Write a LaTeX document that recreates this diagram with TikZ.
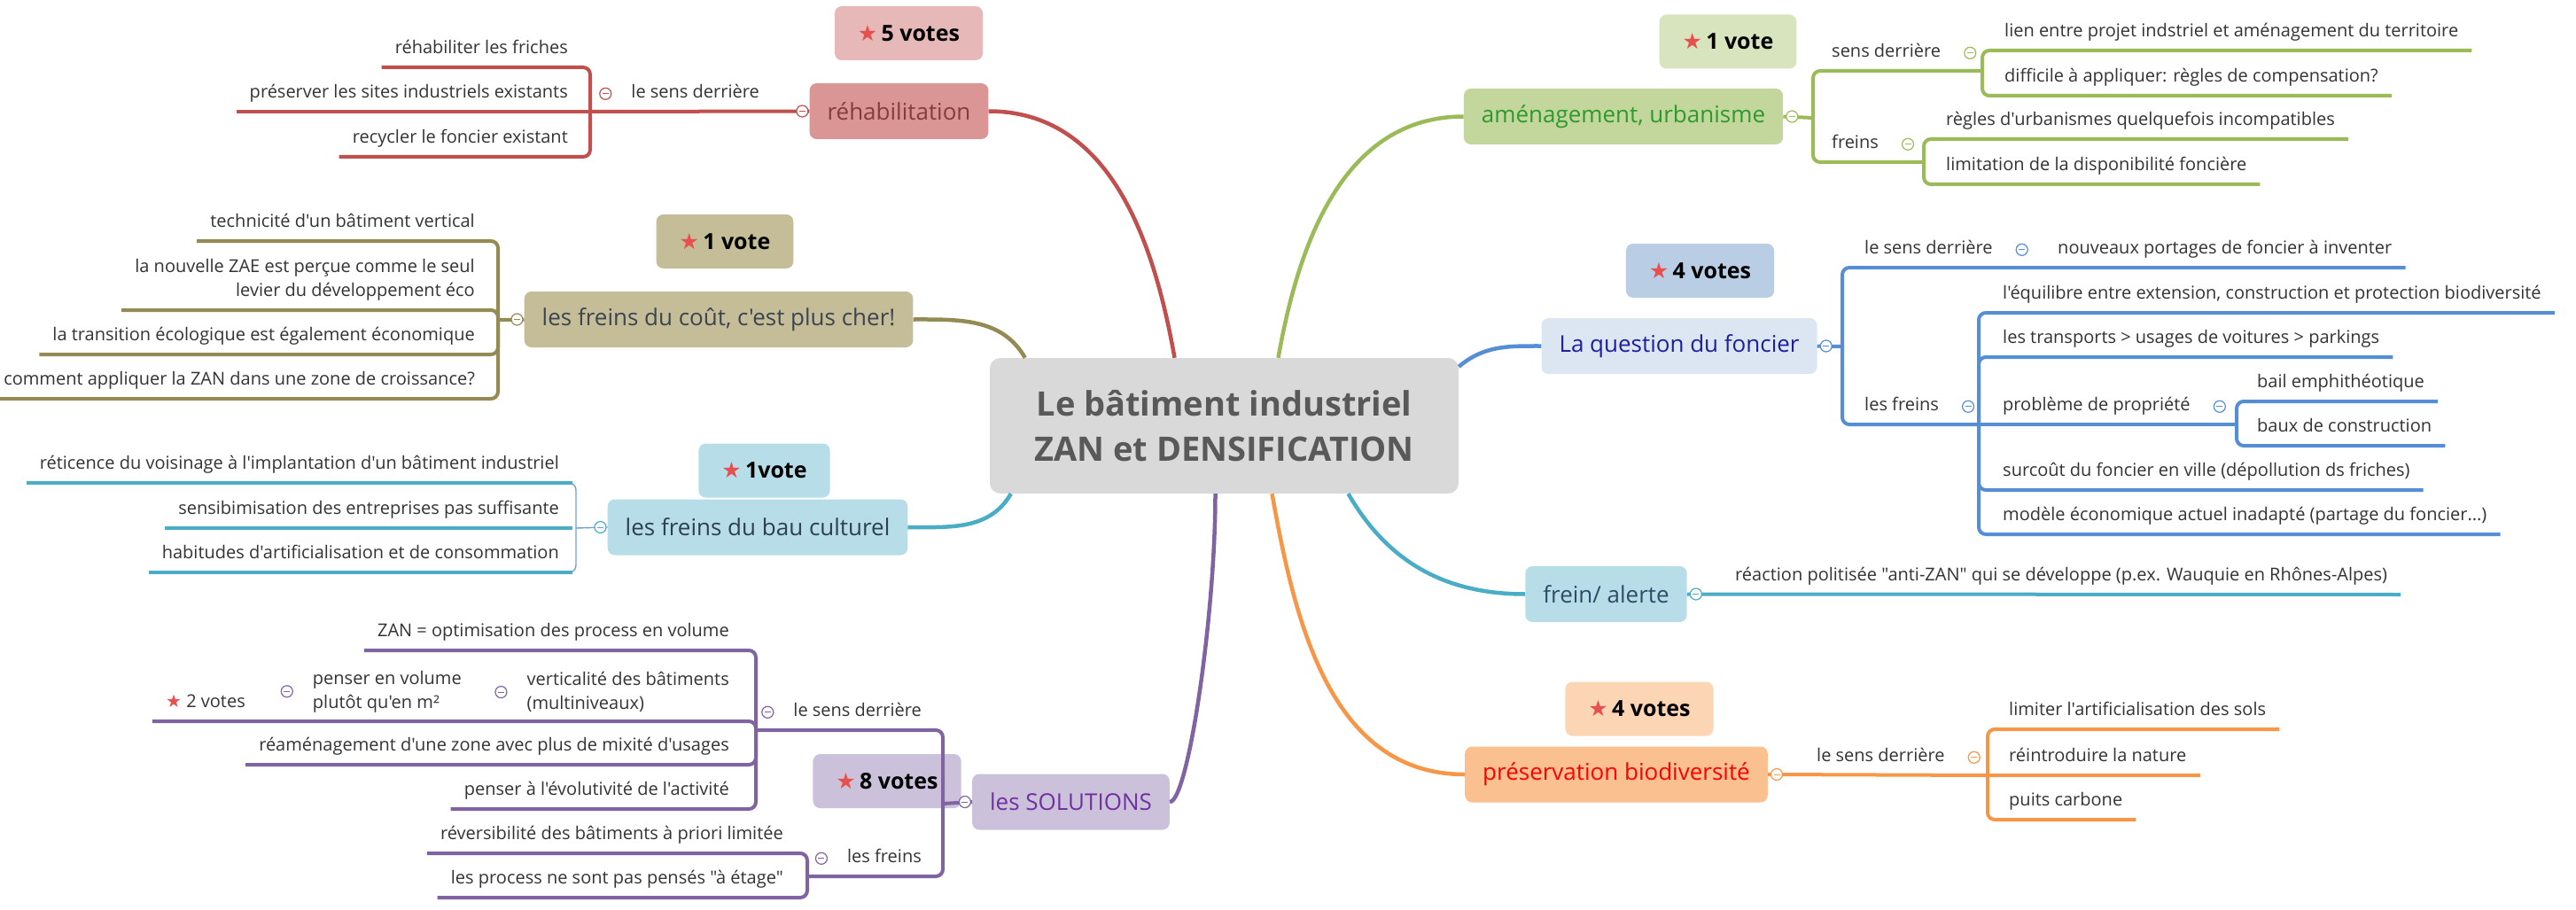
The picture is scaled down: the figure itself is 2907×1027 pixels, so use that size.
\documentclass[tikz,border=0pt]{standalone}
\usepackage{fontspec}
\setmainfont{Open Sans}[Ligatures=TeXOff]
\newfontfamily\symfont{DejaVu Sans}

\definecolor{redline}{HTML}{C0504D}
\definecolor{redtopic}{HTML}{D99694}
\definecolor{redvote}{HTML}{E6B9B8}
\definecolor{redtext}{HTML}{843C3C}
\definecolor{oliveline}{HTML}{948A54}
\definecolor{olivefill}{HTML}{C4BD97}
\definecolor{olivetext}{HTML}{3D4452}
\definecolor{cyanline}{HTML}{4BACC6}
\definecolor{cyanthin}{HTML}{6F9FD8}
\definecolor{cyanfill}{HTML}{B7DEE8}
\definecolor{cyantext}{HTML}{2E3F4F}
\definecolor{purpleline}{HTML}{8064A2}
\definecolor{purplefill}{HTML}{CCC1DA}
\definecolor{purpletext}{HTML}{7030A0}
\definecolor{greenline}{HTML}{9BBB59}
\definecolor{greentopic}{HTML}{C3D69B}
\definecolor{greenvote}{HTML}{D7E4BD}
\definecolor{greentext}{HTML}{2E9A2E}
\definecolor{blueline}{HTML}{558ED5}
\definecolor{bluetopic}{HTML}{DCE6F2}
\definecolor{bluevote}{HTML}{B9CDE5}
\definecolor{bluetext}{HTML}{1F1F9A}
\definecolor{alertetext}{HTML}{2F4B66}
\definecolor{orangeline}{HTML}{F79646}
\definecolor{orangetopic}{HTML}{FAC090}
\definecolor{orangevote}{HTML}{FCD5B5}
\definecolor{orangetext}{HTML}{FF0000}
\definecolor{centerfill}{HTML}{D9D9D9}
\definecolor{centertext}{HTML}{595959}
\definecolor{starred}{HTML}{E8504F}
\definecolor{leafgray}{HTML}{333333}

\newcommand{\votestar}{{\symfont\color{starred}★}}

\tikzset{
  topicbox/.style={rounded corners=8pt, minimum height=63pt, inner xsep=20pt, font=\fontsize{26}{30}\selectfont},
  votebox/.style={rounded corners=8pt, minimum height=61pt, inner xsep=26pt, text=black, font=\fontsize{25}{30}\selectfont\bfseries},
  leaf/.style={inner xsep=15pt, inner ysep=10pt, text height=15pt, text depth=5pt, text=leafgray, font=\fontsize{20}{27}\selectfont},
  twoline/.style={text height=, text depth=},
  foldmark/.style={circle, draw=#1, fill=white, line width=1.2pt, minimum size=13pt, inner sep=0pt,
    path picture={\draw[#1, line width=1pt] ([xshift=-3.5pt]path picture bounding box.center) -- ([xshift=3.5pt]path picture bounding box.center);}},
  mainline/.style={line width=4.5pt},
  subline/.style={line width=4pt, rounded corners=8pt},
  thinline/.style={line width=1.4pt, rounded corners=8pt},
}

\begin{document}
\begin{tikzpicture}[x=1pt, y=-1pt]
\path[use as bounding box] (0,0) rectangle (2907,1027);

% centre
\node[fill=centerfill, rounded corners=12pt, minimum width=529pt, minimum height=153pt, align=center,
  text=centertext, font=\fontsize{38}{51}\selectfont\bfseries] (cen) at (1381.5,480.5)
  {Le bâtiment industriel\\ZAN et DENSIFICATION};

% rehabilitation
\node[votebox, fill=redvote] (vote5) at (1025.5,37.5) {\votestar\,5 votes};
\node[topicbox, fill=redtopic, text=redtext] (reh) at (1014.5,125.5) {réhabilitation};
\node[leaf, anchor=south east] (rehsens) at (872,126) {le sens derrière};
\node[leaf, anchor=south east] (reh1) at (656,76) {réhabiliter les friches};
\node[leaf, anchor=south east] (reh2) at (656,126) {préserver les sites industriels existants};
\node[leaf, anchor=south east] (reh3) at (656,177) {recycler le foncier existant};
\coordinate (rehsp) at (666,126);

% freins du cout
\node[votebox, fill=olivefill] (vote1o) at (818,272.5) {\votestar\,1 vote};
\node[topicbox, fill=olivefill, text=olivetext] (cout) at (811,360.5) {les freins du coût, c'est plus cher!};
\node[leaf, anchor=south east] (cout1) at (551,272) {technicité d'un bâtiment vertical};
\node[leaf, twoline, anchor=south east, align=right] (cout2) at (551,350) {la nouvelle ZAE est perçue comme le seul\\levier du développement éco};
\node[leaf, anchor=south east] (cout3) at (551,400) {la transition écologique est également économique};
\node[leaf, anchor=south east] (cout4) at (551,450) {comment appliquer la ZAN dans une zone de croissance?};
\coordinate (coutsp) at (562,361);

% bau culturel
\node[votebox, fill=cyanfill] (vote1c) at (862.5,531) {\votestar\,1vote};
\node[topicbox, fill=cyanfill, text=cyantext] (bau) at (855,595) {les freins du bau culturel};
\node[leaf, anchor=south east] (bau1) at (646,545) {réticence du voisinage à l'implantation d'un bâtiment industriel};
\node[leaf, anchor=south east] (bau2) at (646,596) {sensibimisation des entreprises pas suffisante};
\node[leaf, anchor=south east] (bau3) at (646,646) {habitudes d'artificialisation et de consommation};
\coordinate (bausp) at (650,596);

% solutions
\node[votebox, fill=purplefill] (vote8) at (1001,881.5) {\votestar\,8 votes};
\node[topicbox, fill=purplefill, text=purpletext] (sol) at (1208.5,905) {les SOLUTIONS};
\node[leaf, anchor=south east] (solsens) at (1055,824) {le sens derrière};
\node[leaf, anchor=south east] (solfrein) at (1055,989) {les freins};
\node[leaf, anchor=south east] (sol1) at (838,734) {ZAN = optimisation des process en volume};
\node[leaf, twoline, anchor=south east, align=left] (sol2) at (838,814) {verticalité des bâtiments\\(multiniveaux)};
\node[leaf, twoline, anchor=south east, align=left] (sol2a) at (536,814) {penser en volume\\plutôt qu'en m²};
\node[leaf, anchor=south east] (sol2b) at (292,814) {\votestar\ 2 votes};
\node[leaf, anchor=south east] (sol3) at (838,863) {réaménagement d'une zone avec plus de mixité d'usages};
\node[leaf, anchor=south east] (sol4) at (838,913) {penser à l'évolutivité de l'activité};
\node[leaf, anchor=south east] (solf1) at (899,963) {réversibilité des bâtiments à priori limitée};
\node[leaf, anchor=south east] (solf2) at (899,1013) {les process ne sont pas pensés "à étage"};
\coordinate (solsp) at (1064,907);
\coordinate (solsp1) at (853,824);
\coordinate (solsp2) at (911,989);

% amenagement
\node[votebox, fill=greenvote] (vote1g) at (1950,47) {\votestar\,1 vote};
\node[topicbox, fill=greentopic, text=greentext] (amen) at (1832,131.5) {aménagement, urbanisme};
\node[leaf, anchor=south west] (amensens) at (2052,80) {sens derrière};
\node[leaf, anchor=south west] (amenfrein) at (2052,183) {freins};
\node[leaf, anchor=south west] (amen1) at (2247,57) {lien entre projet indstriel et aménagement du territoire};
\node[leaf, anchor=south west] (amen2) at (2247,108) {difficile à appliquer: règles de compensation?};
\node[leaf, anchor=south west] (amen3) at (2181,157) {règles d'urbanismes quelquefois incompatibles};
\node[leaf, anchor=south west] (amen4) at (2181,208) {limitation de la disponibilité foncière};
\coordinate (amensp) at (2046,133);
\coordinate (amensp1) at (2237,80);
\coordinate (amensp2) at (2171,183);

% foncier
\node[votebox, fill=bluevote] (vote4b) at (1918.5,305.5) {\votestar\,4 votes};
\node[topicbox, fill=bluetopic, text=bluetext] (fonc) at (1895,390.5) {La question du foncier};
\node[leaf, anchor=south west] (foncsens) at (2089,302) {le sens derrière};
\node[leaf, anchor=south west] (foncfrein) at (2089,479) {les freins};
\node[leaf, anchor=south west] (fonc0) at (2307,302) {nouveaux portages de foncier à inventer};
\node[leaf, anchor=south west] (fonc1) at (2245,353) {l'équilibre entre extension, construction et protection biodiversité};
\node[leaf, anchor=south west] (fonc2) at (2245,403) {les transports > usages de voitures > parkings};
\node[leaf, anchor=south west] (fonc3) at (2245,479) {problème de propriété};
\node[leaf, anchor=south west] (fonc3a) at (2532,453) {bail emphithéotique};
\node[leaf, anchor=south west] (fonc3b) at (2532,503) {baux de construction};
\node[leaf, anchor=south west] (fonc4) at (2245,553) {surcoût du foncier en ville (dépollution ds friches)};
\node[leaf, anchor=south west] (fonc5) at (2245,603) {modèle économique actuel inadapté (partage du foncier...)};
\coordinate (foncsp) at (2079,391);
\coordinate (foncsp2) at (2233,479);
\coordinate (foncsp3) at (2524,479);

% frein / alerte
\node[topicbox, fill=cyanfill, text=alertetext] (alerte) at (1812.5,670.5) {frein/ alerte};
\node[leaf, anchor=south west] (alerte1) at (1943,671) {réaction politisée "anti-ZAN" qui se développe (p.ex. Wauquie en Rhônes-Alpes)};

% biodiversite
\node[votebox, fill=orangevote] (vote4o) at (1850,800) {\votestar\,4 votes};
\node[topicbox, fill=orangetopic, text=orangetext] (pres) at (1824,874) {préservation biodiversité};
\node[leaf, anchor=south west] (pressens) at (2035,875) {le sens derrière};
\node[leaf, anchor=south west] (pres1) at (2252,823) {limiter l'artificialisation des sols};
\node[leaf, anchor=south west] (pres2) at (2252,875) {réintroduire la nature};
\node[leaf, anchor=south west] (pres3) at (2252,925) {puits carbone};
\coordinate (pressp) at (2243,875);

% branches
\draw[mainline, redline] (reh.east) to[out=0, in=100] ([xshift=-56pt]cen.north);
\draw[mainline, oliveline] (cout.east) to[out=0, in=120] ([xshift=40pt]cen.north west);
\draw[mainline, cyanline] (bau.east) to[out=0, in=-120] ([xshift=24pt]cen.south west);
\draw[mainline, purpleline] (sol.east) to[out=0, in=-90, out looseness=0.15] ([xshift=-10pt]cen.south);
\draw[mainline, greenline] (amen.west) to[out=180, in=80] ([xshift=61pt]cen.north);
\draw[mainline, blueline] (fonc.west) to[out=180, in=40] ([yshift=-10pt]cen.north east);
\draw[mainline, cyanline] (alerte.west) to[out=180, in=-60] ([xshift=140pt]cen.south);
\draw[mainline, orangeline] (pres.west) to[out=180, in=-80] ([xshift=54pt]cen.south);

% sub lines
\draw[subline, redline] (reh.west) -- (rehsp);
\draw[subline, redline] (rehsp) |- (reh1.south west);
\draw[subline, redline] (rehsp) -- (reh2.south west);
\draw[subline, redline] (rehsp) |- (reh3.south west);

\draw[subline, oliveline] (cout.west) -- (coutsp);
\foreach \c in {cout1,cout2,cout3,cout4}
  \draw[subline, oliveline] (coutsp) |- (\c.south west);

\draw[thinline, cyanthin] (bau.west) -- (bausp);
\draw[thinline, cyanthin] (bausp) |- (bau1.south east);
\draw[thinline, cyanthin] (bausp) |- (bau3.south east);
\foreach \c in {bau1,bau2,bau3}
  \draw[subline, cyanline] (\c.south east) -- (\c.south west);

\draw[subline, purpleline] (sol.west) -- (solsp);
\draw[subline, purpleline] (solsp) |- (solsp1);
\draw[subline, purpleline] (solsp) |- (solsp2);
\foreach \c in {sol1,sol3,sol4}
  \draw[subline, purpleline] (solsp1) |- (\c.south west);
\draw[subline, purpleline] (solsp1) |- (sol2.south west) -- (sol2a.south west) -- (sol2b.south west);
\foreach \c in {solf1,solf2}
  \draw[subline, purpleline] (solsp2) |- (\c.south west);

\draw[subline, greenline] (amen.east) -- (amensp);
\draw[subline, greenline] (amensp) |- (amensp1);
\draw[subline, greenline] (amensp) |- (amensp2);
\foreach \c in {amen1,amen2}
  \draw[subline, greenline] (amensp1) |- (\c.south east);
\foreach \c in {amen3,amen4}
  \draw[subline, greenline] (amensp2) |- (\c.south east);

\draw[subline, blueline] (fonc.east) -- (foncsp);
\draw[subline, blueline] (foncsp) |- (fonc0.south east);
\draw[subline, blueline] (foncsp) |- (foncsp2);
\foreach \c in {fonc1,fonc2,fonc4,fonc5}
  \draw[subline, blueline] (foncsp2) |- (\c.south east);
\draw[subline, blueline] (foncsp2) -- (foncsp3);
\foreach \c in {fonc3a,fonc3b}
  \draw[subline, blueline] (foncsp3) |- (\c.south east);

\draw[subline, cyanline] (alerte.east) -- (alerte1.south east);

\draw[subline, orangeline] (pres.east) -- (pressp);
\draw[subline, orangeline] (pressp) |- (pres1.south east);
\draw[subline, orangeline] (pressp) -- (pres2.south east);
\draw[subline, orangeline] (pressp) |- (pres3.south east);

% fold marks
\node[foldmark=redline] at ([xshift=-8pt]reh.west) {};
\node[foldmark=redline] at ([xshift=-14pt]rehsens.west) {};
\node[foldmark=oliveline] at ([xshift=-8pt]cout.west) {};
\node[foldmark=cyanline] at ([xshift=-8pt]bau.west) {};
\node[foldmark=purpleline] at ([xshift=-8pt]sol.west) {};
\node[foldmark=purpleline] at ([xshift=-14pt]solsens.west) {};
\node[foldmark=purpleline] at ([xshift=-14pt]solfrein.west) {};
\node[foldmark=purpleline] at ([xshift=-14pt]sol2.west) {};
\node[foldmark=purpleline] at ([xshift=-14pt]sol2a.west) {};
\node[foldmark=greenline] at ([xshift=10pt]amen.east) {};
\node[foldmark=greenline] at ([xshift=18pt]amensens.east) {};
\node[foldmark=greenline] at ([xshift=18pt]amenfrein.east) {};
\node[foldmark=blueline] at ([xshift=10pt]fonc.east) {};
\node[foldmark=blueline] at ([xshift=18pt]foncsens.east) {};
\node[foldmark=blueline] at ([xshift=18pt]foncfrein.east) {};
\node[foldmark=blueline] at ([xshift=18pt]fonc3.east) {};
\node[foldmark=cyanline] at ([xshift=10pt]alerte.east) {};
\node[foldmark=orangeline] at ([xshift=10pt]pres.east) {};
\node[foldmark=orangeline] at ([xshift=18pt]pressens.east) {};
\end{tikzpicture}
\end{document}
